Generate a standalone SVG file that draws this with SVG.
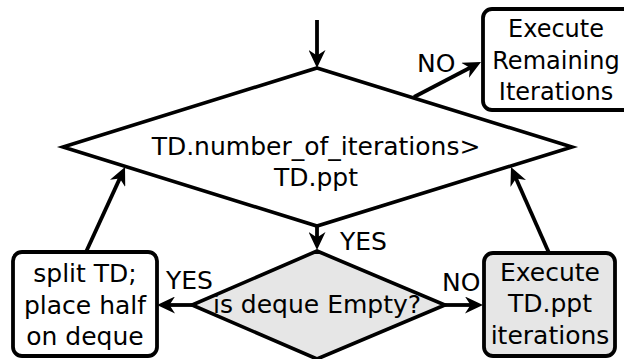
<svg xmlns="http://www.w3.org/2000/svg" width="624" height="359" viewBox="0 0 624 359">
<style>
text{font-family:"DejaVu Sans","Liberation Sans",sans-serif;font-size:25px;fill:#000}
.c{text-anchor:middle}
.shape{stroke:#000;stroke-width:3.6;stroke-linejoin:miter}
.box{stroke:#000;stroke-width:3.8}
.conn line{stroke:#000;stroke-width:3.8;marker-end:url(#ah)}
</style>
<defs>
<marker id="ah" markerUnits="userSpaceOnUse" markerWidth="18" markerHeight="17" viewBox="0 0 18 17" refX="11" refY="8.5" orient="auto">
<path d="M0,0 L18,8.5 L0,17 L5.5,8.5 Z" fill="#000"/>
</marker>
</defs>
<rect width="624" height="359" fill="#fff"/>
<g id="decision1">
<polygon class="shape" points="317,68 572,147 317,226 63,147" fill="#fff"/>
<text class="c" x="316" y="155">TD.number_of_iterations&gt;</text>
<text class="c" x="316" y="186">TD.ppt</text>
</g>
<g id="remaining">
<rect class="box" x="483" y="9" width="150" height="101" rx="9" fill="#fff"/>
<text class="c" x="556" y="37" style="font-size:24px">Execute</text>
<text class="c" x="556" y="69" style="font-size:24px">Remaining</text>
<text class="c" x="556" y="100" style="font-size:24px">Iterations</text>
</g>
<g id="decision2">
<polygon class="shape" points="317,251 445,305 317,359 192,305" fill="#e6e6e6"/>
<text class="c" x="317" y="313">is deque Empty?</text>
</g>
<g id="split">
<rect class="box" x="13" y="252" width="144" height="104" rx="9" fill="#fff"/>
<text class="c" x="85" y="282">split TD;</text>
<text class="c" x="85" y="314">place half</text>
<text class="c" x="85" y="345">on deque</text>
</g>
<g id="execppt">
<rect class="box" x="484" y="253" width="131" height="103" rx="9" fill="#e6e6e6"/>
<text class="c" x="550" y="281">Execute</text>
<text class="c" x="550" y="312">TD.ppt</text>
<text class="c" x="550" y="344">iterations</text>
</g>
<g class="conn" id="connectors">
<line x1="317" y1="20" x2="317" y2="61"/>
<line x1="414" y1="97" x2="474.8" y2="65.2"/>
<line x1="317" y1="226" x2="317" y2="243"/>
<line x1="192" y1="305" x2="164" y2="305"/>
<line x1="445" y1="305" x2="476" y2="305"/>
<line x1="86" y1="252" x2="122.1" y2="173.4"/>
<line x1="549" y1="253" x2="513.8" y2="173.4"/>
</g>
<g id="labels">
<text x="417" y="72">NO</text>
<text x="340" y="250">YES</text>
<text x="166" y="289">YES</text>
<text x="442" y="291">NO</text>
</g>
</svg>
